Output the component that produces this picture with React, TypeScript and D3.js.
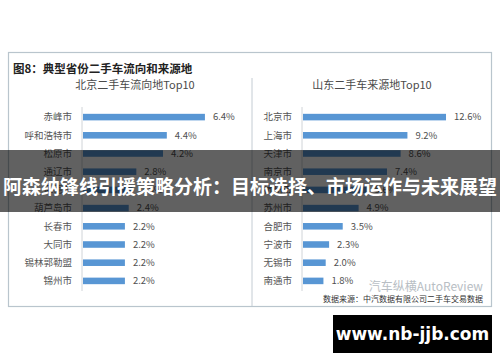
import React from 'react';
import * as d3 from 'd3';

// 北京二手车流向地 Top10
const bjCities = ['赤峰市', '呼和浩特市', '松原市', '通辽市', '承德市', '葫芦岛市', '长春市', '大同市', '锡林郭勒盟', '锦州市'];
const bjShare = [6.4, 4.4, 4.2, 2.8, 2.6, 2.4, 2.2, 2.2, 2.2, 2.2];

// 山东二手车来源地 Top10
const sdCities = ['北京市', '上海市', '天津市', '南京市', '杭州市', '苏州市', '合肥市', '宁波市', '无锡市', '南通市'];
const sdShare = [12.6, 9.2, 8.6, 7.4, 5.6, 4.9, 3.5, 2.3, 2.0, 1.8];

const W = 500;
const H = 362;
const FONT = '"Noto Sans CJK SC", "Noto Sans", sans-serif';
const BAR = '#5896d4';

interface PanelProps {
  title: string;
  titleX: number;
  cities: string[];
  values: number[];
  x0: number;
  pxPerUnit: number;
}

const Panel: React.FC<PanelProps> = ({ title, titleX, cities, values, x0, pxPerUnit }) => {
  const maxV = d3.max(values) ?? 1;
  const x = d3.scaleLinear().domain([0, maxV]).range([x0, x0 + maxV * pxPerUnit]);
  const y = d3.scaleBand<string>().domain(cities).range([108, 290]).padding(0);
  const bh = y.bandwidth() * 0.36;

  return (
    <g>
      <text x={titleX} y={89} textAnchor="middle" fontSize={11} fill="#4a4a4a" fontFamily={FONT}>{title}</text>
      <line x1={x0} x2={x0} y1={107} y2={291} stroke="#d0d4d8" strokeWidth={1} />
      {cities.map((c, i) => {
        const cy = (y(c) ?? 0) + y.bandwidth() / 2;
        return (
          <g key={c}>
            <text x={x0 - 10} y={cy} dy="0.35em" textAnchor="end" fontSize={9.5} fill="#555" fontFamily={FONT}>{c}</text>
            <rect x={x0 + 1} y={cy - bh / 2} width={x(values[i]) - x0} height={bh} fill={BAR} />
            <text x={x(values[i]) + 9} y={cy} dy="0.35em" fontSize={9.5} fill="#505050" fontFamily={FONT}>
              {values[i].toFixed(1)}%
            </text>
          </g>
        );
      })}
    </g>
  );
};

const App: React.FC = () => {
  return (
    <div style={{ position: 'absolute', left: 0, top: 0, width: W, height: H, background: '#fff' }}>
      <svg width={W} height={H} style={{ display: 'block' }}>
        <rect x={0} y={0} width={W} height={H} fill="#fff" />
        {/* chart frame */}
        <rect x={8.5} y={52.5} width={483} height={254} fill="#fff" stroke="#b9c5cd" strokeWidth={1.2} />
        <text x={13} y={73} fontSize={11.5} fontWeight="bold" fill="#222" fontFamily={FONT}>图8：典型省份二手车流向和来源地</text>
        <line x1={252} x2={252} y1={78} y2={306} stroke="#c4ccd3" strokeWidth={1} />

        <Panel title="北京二手车流向地Top10" titleX={135} cities={bjCities} values={bjShare} x0={82} pxPerUnit={19.05} />
        <Panel title="山东二手车来源地Top10" titleX={372} cities={sdCities} values={sdShare} x0={302} pxPerUnit={11.35} />

        {/* watermark & source */}
        <text x={483} y={291} textAnchor="end" fontSize={12} fill="#b8bec4" fontFamily={FONT}>汽车纵横AutoReview</text>
        <text x={483} y={302} textAnchor="end" fontSize={8} fill="#333" fontFamily={FONT}>数据来源：中汽数据有限公司二手车交易数据</text>

        {/* overlay banner */}
        <rect x={0} y={150} width={W} height={62} fill="rgba(0,0,0,0.62)" />
        <text x={W / 2} y={187} dy="0.35em" textAnchor="middle" fontSize={19.6} fontWeight="bold" fill="#fff"
          fontFamily={FONT} textLength={494} lengthAdjust="spacingAndGlyphs">
          阿森纳锋线引援策略分析：目标选择、市场运作与未来展望
        </text>

        {/* site badge */}
        <rect x={333} y={315} width={159} height={38} fill="#000" />
        <text x={412.5} y={334} dy="0.35em" textAnchor="middle" fontSize={17} fontWeight="bold" fill="#fff"
          fontFamily='"DejaVu Sans", sans-serif'>www.nb-jjb.com</text>
      </svg>
    </div>
  );
};

export default App;
